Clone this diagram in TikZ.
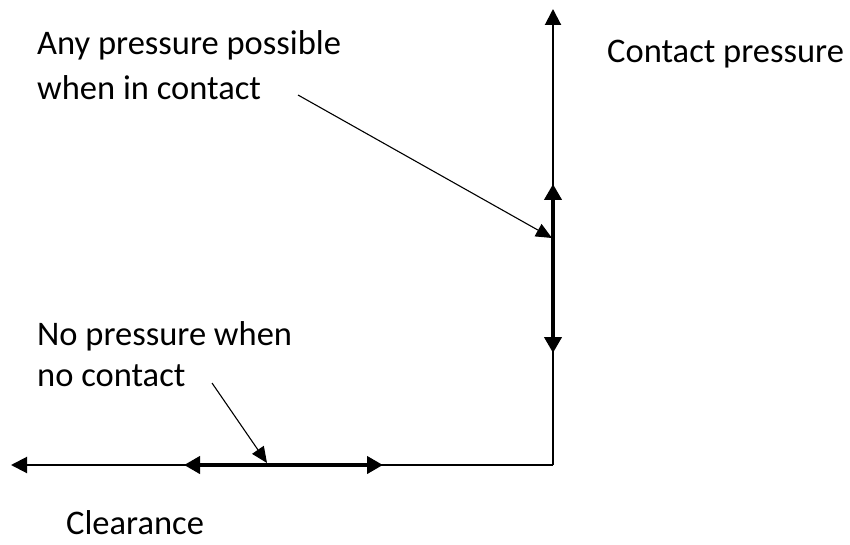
\documentclass[tikz,border=0pt]{standalone}
\usepackage{fontspec}
\setmainfont{Carlito}
\usetikzlibrary{arrows.meta}
\begin{document}
\begin{tikzpicture}[x=1pt,y=-1pt,
  axisline/.style={line width=2pt,-{Triangle[length=16pt,width=16pt]}},
  spanline/.style={line width=4.5pt,{Triangle[length=16pt,width=17pt]}-{Triangle[length=16pt,width=17pt]}},
  pointer/.style={line width=1.1pt,-{Triangle[length=16pt,width=14pt]}},
  caption/.style={inner sep=0pt,align=left,anchor=base west,font=\fontsize{34.5}{43}\selectfont}]
\useasboundingbox (0,0) rectangle (850,545);
% axes
\coordinate (origin) at (553,465);
\coordinate (ytop) at (553,9);
\coordinate (xleft) at (11,465);
\draw[axisline] (origin) -- (ytop);
\draw[axisline] (origin) -- (xleft);
% highlighted ranges
\coordinate (vlow) at (553,353);
\coordinate (vhigh) at (553,184);
\coordinate (hleft) at (184,465);
\coordinate (hright) at (383,465);
\draw[spanline] (vlow) -- (vhigh);
\draw[spanline] (hleft) -- (hright);
% labels (base anchor sits on the last line)
\node[caption,font=\fontsize{34.5}{45}\selectfont] (contact) at (37,100) {Any pressure possible\\when in contact};
\node[caption] (axisy) at (607,63) {Contact pressure};
\node[caption,font=\fontsize{34.5}{41}\selectfont] (nocontact) at (37,386) {No pressure when\\no contact};
\node[caption] (axisx) at (66,534) {Clearance};
% pointers
\coordinate (p1s) at (298,95);
\coordinate (p1e) at (552,238);
\coordinate (p2s) at (212,383);
\coordinate (p2e) at (267,463);
\draw[pointer] (p1s) -- (p1e);
\draw[pointer] (p2s) -- (p2e);
\end{tikzpicture}
\end{document}
